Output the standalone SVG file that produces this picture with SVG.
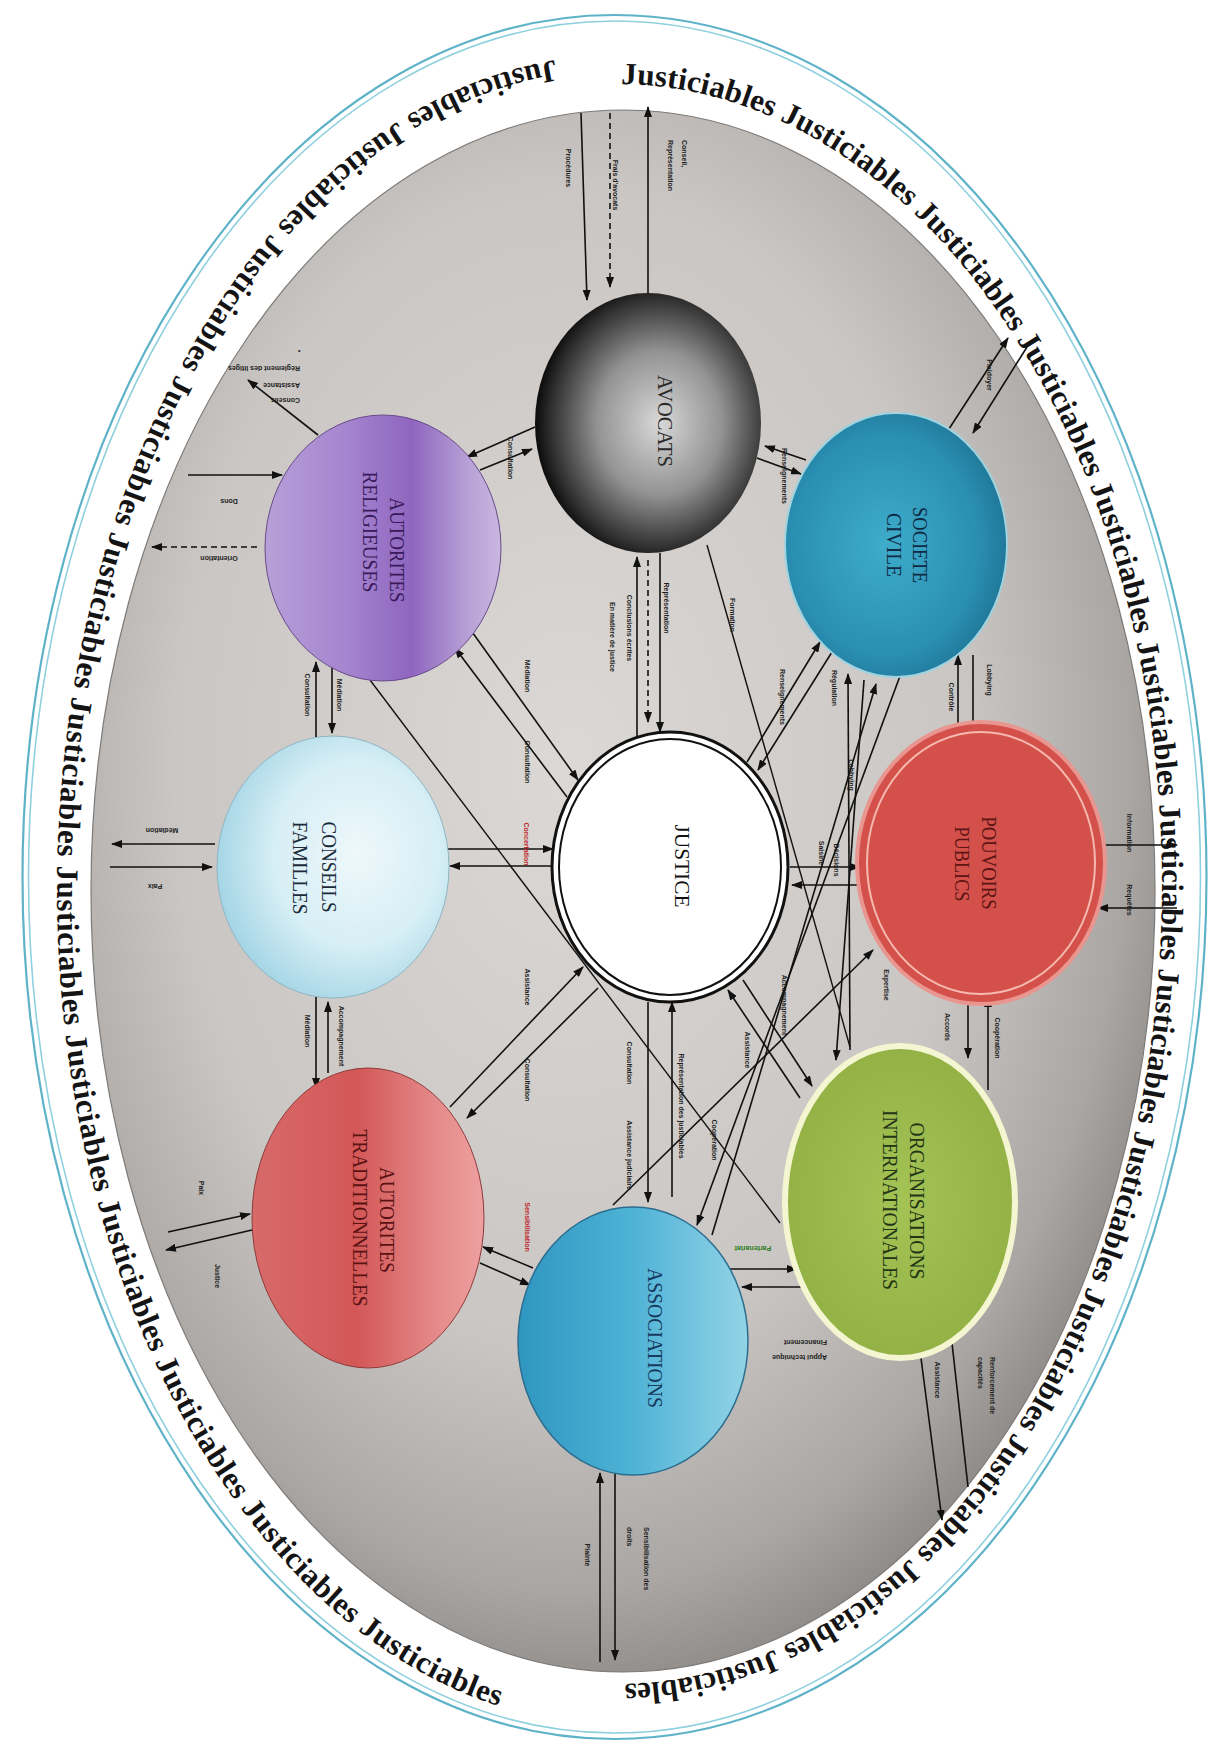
<svg xmlns="http://www.w3.org/2000/svg" xmlns:xlink="http://www.w3.org/1999/xlink" width="1224" height="1748" viewBox="0 0 1224 1748">
<style>
.ln{stroke:#111;stroke-width:1.6;fill:none;marker-end:url(#ah)}
.ln0{stroke:#111;stroke-width:1.4;fill:none}
.dash{stroke-dasharray:6 4}
.lb{font-family:"Liberation Sans",Arial,sans-serif;font-size:7px;font-weight:bold;fill:#1e1e1e}
.red{fill:#c0282d}
.grn{fill:#2e7d1e}
.nl{font-family:"Liberation Serif","Times New Roman",serif;font-size:20px}
.jt{font-family:"Liberation Serif","Times New Roman",serif;font-size:31px;font-weight:bold;fill:#141414}
</style>
<defs>
<marker id="ah" markerUnits="userSpaceOnUse" markerWidth="11" markerHeight="8" refX="10" refY="4" orient="auto"><path d="M0,0 L11,4 L0,8 z" fill="#111"/></marker>
<radialGradient id="gGray" cx="0.45" cy="0.42" r="0.62"><stop offset="0" stop-color="#dbd8d5"/><stop offset="0.6" stop-color="#c9c6c3"/><stop offset="0.85" stop-color="#a9a6a3"/><stop offset="1" stop-color="#85827f"/></radialGradient>
<radialGradient id="gAvo" cx="0.55" cy="0.5" r="0.55"><stop offset="0" stop-color="#d8d8d8"/><stop offset="0.5" stop-color="#939393"/><stop offset="0.88" stop-color="#2e2e2e"/><stop offset="1" stop-color="#0a0a0a"/></radialGradient>
<linearGradient id="gRel" x1="0" y1="0" x2="1" y2="0"><stop offset="0" stop-color="#b7a0d8"/><stop offset="0.35" stop-color="#a584cf"/><stop offset="0.62" stop-color="#8f66bf"/><stop offset="0.85" stop-color="#b59ed5"/><stop offset="1" stop-color="#c9b8e0"/></linearGradient>
<radialGradient id="gCon" cx="0.6" cy="0.45" r="0.6"><stop offset="0" stop-color="#eef8fb"/><stop offset="0.6" stop-color="#d6eef5"/><stop offset="1" stop-color="#a6d6e6"/></radialGradient>
<radialGradient id="gSoc" cx="0.45" cy="0.5" r="0.6"><stop offset="0" stop-color="#3eacca"/><stop offset="0.7" stop-color="#2a8fb2"/><stop offset="1" stop-color="#1d6f90"/></radialGradient>
<radialGradient id="gOrg" cx="0.5" cy="0.5" r="0.6"><stop offset="0" stop-color="#a4c355"/><stop offset="1" stop-color="#90ae42"/></radialGradient>
<linearGradient id="gAss" x1="0" y1="0" x2="1" y2="0"><stop offset="0" stop-color="#2f96c0"/><stop offset="0.5" stop-color="#4fb3d6"/><stop offset="1" stop-color="#93d3e6"/></linearGradient>
<linearGradient id="gTra" x1="0" y1="0" x2="1" y2="0"><stop offset="0" stop-color="#d86a6a"/><stop offset="0.45" stop-color="#d35757"/><stop offset="0.8" stop-color="#e58b8b"/><stop offset="1" stop-color="#eea0a0"/></linearGradient>
<path id="arcR" d="M617,84 A545,800 0 0 1 617,1684"/>
<path id="arcL" d="M617,55 A560,835 0 0 0 617,1725"/>
</defs>
<rect width="1224" height="1748" fill="#ffffff"/>
<g id="frame">
<ellipse cx="614.5" cy="877" rx="592" ry="862" fill="#ffffff" stroke="#5fb3c9" stroke-width="2.2"/>
<ellipse cx="614.5" cy="877" rx="586" ry="856" fill="none" stroke="#8fd0de" stroke-width="1.6"/>
<ellipse cx="623" cy="891" rx="532" ry="781" fill="url(#gGray)" stroke="#7d7b79" stroke-width="1.2"/>
<text class="jt"><textPath xlink:href="#arcR" href="#arcR" startOffset="4" textLength="2120" lengthAdjust="spacing">Justiciables Justiciables Justiciables Justiciables Justiciables Justiciables Justiciables Justiciables Justiciables Justiciables Justiciables Justiciables Justiciables</textPath></text>
<text class="jt"><textPath xlink:href="#arcL" href="#arcL" startOffset="62" textLength="2030" lengthAdjust="spacing">Justiciables Justiciables Justiciables Justiciables Justiciables Justiciables Justiciables Justiciables Justiciables Justiciables Justiciables Justiciables</textPath></text>
</g>
<g id="connectors">
<path class="ln" d="M581,113 L587,300"/>
<path class="ln dash" d="M610,113 L610,287"/>
<path class="ln" d="M648,293 L648,107"/>
<path class="ln" d="M535,427 L467,457"/>
<path class="ln" d="M480,470 L532,449"/>
<path class="ln" d="M806,460 L765,446"/>
<path class="ln" d="M757,458 L801,474"/>
<path class="ln" d="M947,432 L1008,338"/>
<path class="ln" d="M1027,347 L973,433"/>
<path class="ln" d="M318,435 L248,380"/>
<path class="ln" d="M188,475 L282,475"/>
<path class="ln dash" d="M257,547 L152,547"/>
<path class="ln" d="M316,737 L316,662"/>
<path class="ln" d="M332,662 L332,733"/>
<path class="ln" d="M567,797 L455,648"/>
<path class="ln" d="M465,622 L578,780"/>
<path class="ln" d="M637,737 L637,557"/>
<path class="ln dash" d="M648,560 L648,722"/>
<path class="ln" d="M660,553 L660,732"/>
<path class="ln" d="M215,844 L112,844"/>
<path class="ln" d="M110,867 L212,867"/>
<path class="ln" d="M447,849 L553,849"/>
<path class="ln" d="M560,866 L450,866"/>
<path class="ln" d="M316,997 L316,1088"/>
<path class="ln" d="M328,1073 L328,1002"/>
<path class="ln" d="M598,988 L467,1118"/>
<path class="ln" d="M450,1107 L583,967"/>
<path class="ln" d="M168,1232 L250,1214"/>
<path class="ln" d="M252,1230 L166,1250"/>
<path class="ln" d="M533,1268 L483,1247"/>
<path class="ln" d="M480,1263 L530,1285"/>
<path class="ln" d="M727,1269 L797,1269"/>
<path class="ln" d="M812,1287 L742,1287"/>
<path class="ln" d="M600,1662 L600,1473"/>
<path class="ln" d="M615,1472 L615,1660"/>
<path class="ln" d="M918,1335 L942,1520"/>
<path class="ln" d="M968,1487 L950,1325"/>
<path class="ln" d="M1093,845 L1177,845"/>
<path class="ln" d="M1177,908 L1098,908"/>
<path class="ln" d="M958,730 L958,655"/>
<path class="ln" d="M973,655 L973,732"/>
<path class="ln" d="M968,1002 L968,1058"/>
<path class="ln" d="M988,1090 L988,997"/>
<path class="ln" d="M790,867 L860,867"/>
<path class="ln" d="M862,885 L792,885"/>
<path class="ln" d="M648,1002 L648,1202"/>
<path class="ln" d="M672,1197 L672,1002"/>
<path class="ln" d="M800,1098 L728,990"/>
<path class="ln" d="M743,980 L812,1086"/>
<path class="ln" d="M747,762 L820,642"/>
<path class="ln" d="M832,652 L758,770"/>
<path class="ln0" d="M707,545 L850,1047"/>
<path class="ln0" d="M370,680 L780,1223"/>
<path class="ln" d="M850,1050 L848,674"/>
<path class="ln" d="M864,680 L836,1060"/>
<path class="ln" d="M900,676 L697,1225"/>
<path class="ln" d="M712,1235 L876,684"/>
<path class="ln" d="M613,1205 L873,950"/>
</g>
<g id="labels">
<text class="lb" transform="translate(566,168) rotate(90)" text-anchor="middle">Procédures</text>
<text class="lb" transform="translate(613,185) rotate(90)" text-anchor="middle">Frais d'avocats</text>
<text class="lb" transform="translate(682,140) rotate(90)">Conseil,</text>
<text class="lb" transform="translate(668,140) rotate(90)">Représentation</text>
<text class="lb" transform="translate(508,458) rotate(90)" text-anchor="middle">Consultation</text>
<text class="lb" transform="translate(782,476) rotate(90)" text-anchor="middle">Renseignements</text>
<text class="lb" transform="translate(987,375) rotate(90)" text-anchor="middle">Plaidoyer</text>
<text class="lb" transform="translate(300,366) rotate(180)">Règlement des litiges</text>
<text class="lb" transform="translate(300,383) rotate(180)">Assistance</text>
<text class="lb" transform="translate(300,398) rotate(180)">Conseils</text>
<text class="lb" x="298" y="353">•</text>
<text class="lb" transform="translate(229,499) rotate(180)" text-anchor="middle">Dons</text>
<text class="lb" transform="translate(219,556) rotate(180)" text-anchor="middle">Orientation</text>
<text class="lb" transform="translate(305,695) rotate(90)" text-anchor="middle">Consultation</text>
<text class="lb" transform="translate(337,695) rotate(90)" text-anchor="middle">Médiation</text>
<text class="lb" transform="translate(525,676) rotate(90)" text-anchor="middle">Médiation</text>
<text class="lb" transform="translate(525,762) rotate(90)" text-anchor="middle">Consultation</text>
<text class="lb" transform="translate(610,637) rotate(90)" text-anchor="middle">En matière de justice</text>
<text class="lb" transform="translate(627,628) rotate(90)" text-anchor="middle">Conclusions écrites</text>
<text class="lb" transform="translate(664,608) rotate(90)" text-anchor="middle">Représentation</text>
<text class="lb" transform="translate(162,828) rotate(180)" text-anchor="middle">Médiation</text>
<text class="lb" transform="translate(155,884) rotate(180)" text-anchor="middle">Paix</text>
<text class="lb red" transform="translate(524,844) rotate(90)" text-anchor="middle">Concertation</text>
<text class="lb" transform="translate(305,1031) rotate(90)" text-anchor="middle">Médiation</text>
<text class="lb" transform="translate(339,1036) rotate(90)" text-anchor="middle">Accompagnement</text>
<text class="lb" transform="translate(525,987) rotate(90)" text-anchor="middle">Assistance</text>
<text class="lb" transform="translate(525,1080) rotate(90)" text-anchor="middle">Consultation</text>
<text class="lb" transform="translate(199,1188) rotate(90)" text-anchor="middle">Paix</text>
<text class="lb" transform="translate(215,1276) rotate(90)" text-anchor="middle">Justice</text>
<text class="lb red" transform="translate(525,1227) rotate(90)" text-anchor="middle">Sensibilisation</text>
<text class="lb" transform="translate(627,1063) rotate(90)" text-anchor="middle">Consultation</text>
<text class="lb" transform="translate(627,1155) rotate(90)" text-anchor="middle">Assistance judiciaire</text>
<text class="lb" transform="translate(679,1106) rotate(90)" text-anchor="middle">Représentation des justiciables</text>
<text class="lb grn" transform="translate(753,1246) rotate(180)" text-anchor="middle">Partenariat</text>
<text class="lb" transform="translate(827,1340) rotate(180)">Financement</text>
<text class="lb" transform="translate(827,1355) rotate(180)">Appui technique</text>
<text class="lb" transform="translate(585,1555) rotate(90)" text-anchor="middle">Plainte</text>
<text class="lb" transform="translate(644,1527) rotate(90)">Sensibilisation des</text>
<text class="lb" transform="translate(627,1527) rotate(90)">droits</text>
<text class="lb" transform="translate(935,1380) rotate(90)" text-anchor="middle">Assistance</text>
<text class="lb" transform="translate(990,1357) rotate(90)">Renforcement de</text>
<text class="lb" transform="translate(978,1357) rotate(90)">capacités</text>
<text class="lb" transform="translate(1127,833) rotate(90)" text-anchor="middle">Information</text>
<text class="lb" transform="translate(1127,900) rotate(90)" text-anchor="middle">Requêtes</text>
<text class="lb" transform="translate(949,697) rotate(90)" text-anchor="middle">Contrôle</text>
<text class="lb" transform="translate(987,680) rotate(90)" text-anchor="middle">Lobbying</text>
<text class="lb" transform="translate(945,1027) rotate(90)" text-anchor="middle">Accords</text>
<text class="lb" transform="translate(995,1038) rotate(90)" text-anchor="middle">Coopération</text>
<text class="lb" transform="translate(819,853) rotate(90)" text-anchor="middle">Saisine</text>
<text class="lb" transform="translate(834,860) rotate(90)" text-anchor="middle">Décisions</text>
<text class="lb" transform="translate(780,697) rotate(90)" text-anchor="middle">Renseignements</text>
<text class="lb" transform="translate(832,688) rotate(90)" text-anchor="middle">Régulation</text>
<text class="lb" transform="translate(849,775) rotate(90)" text-anchor="middle">Lobbying</text>
<text class="lb" transform="translate(884,985) rotate(90)" text-anchor="middle">Expertise</text>
<text class="lb" transform="translate(782,1005) rotate(90)" text-anchor="middle">Accompagnement</text>
<text class="lb" transform="translate(730,615) rotate(90)" text-anchor="middle">Formation</text>
<text class="lb" transform="translate(745,1050) rotate(90)" text-anchor="middle">Assistance</text>
<text class="lb" transform="translate(712,1140) rotate(90)" text-anchor="middle">Coopération</text>
</g>
<g id="node-avocats">
<ellipse cx="648" cy="423" rx="113" ry="130" fill="url(#gAvo)"/>
<text class="nl" fill="#2a2a2a" transform="translate(658,421) rotate(90)" text-anchor="middle" textLength="92" lengthAdjust="spacingAndGlyphs">AVOCATS</text>
</g>
<g id="node-religieuses">
<ellipse cx="383" cy="548" rx="118" ry="133" fill="url(#gRel)" stroke="#6a4a8a" stroke-width="1"/>
<text class="nl" fill="#3a1a5a" transform="translate(390,550) rotate(90)" text-anchor="middle" textLength="105" lengthAdjust="spacingAndGlyphs">AUTORITES</text>
<text class="nl" fill="#3a1a5a" transform="translate(363,532) rotate(90)" text-anchor="middle" textLength="121" lengthAdjust="spacingAndGlyphs">RELIGIEUSES</text>
</g>
<g id="node-societe">
<ellipse cx="896" cy="545" rx="111" ry="132" fill="url(#gSoc)" stroke="#9fd3e0" stroke-width="2"/>
<text class="nl" fill="#0f2a45" transform="translate(913,545) rotate(90)" text-anchor="middle" textLength="76" lengthAdjust="spacingAndGlyphs">SOCIETE</text>
<text class="nl" fill="#0f2a45" transform="translate(887,545) rotate(90)" text-anchor="middle" textLength="64" lengthAdjust="spacingAndGlyphs">CIVILE</text>
</g>
<g id="node-conseils">
<ellipse cx="333" cy="867" rx="116" ry="131" fill="url(#gCon)" stroke="#8fb5c4" stroke-width="1"/>
<text class="nl" fill="#1b2a3a" transform="translate(322,867) rotate(90)" text-anchor="middle" textLength="91" lengthAdjust="spacingAndGlyphs">CONSEILS</text>
<text class="nl" fill="#1b2a3a" transform="translate(293,868) rotate(90)" text-anchor="middle" textLength="93" lengthAdjust="spacingAndGlyphs">FAMILLES</text>
</g>
<g id="node-justice">
<ellipse cx="670" cy="867" rx="118" ry="135" fill="#ffffff" stroke="#111" stroke-width="3"/>
<ellipse cx="670" cy="867" rx="111" ry="128" fill="none" stroke="#111" stroke-width="2"/>
<text class="nl" fill="#111" font-size="19" transform="translate(675,866) rotate(90)" text-anchor="middle" textLength="83" lengthAdjust="spacingAndGlyphs">JUSTICE</text>
</g>
<g id="node-pouvoirs">
<ellipse cx="981" cy="863" rx="124" ry="141" fill="#d4504a" stroke="#e99690" stroke-width="4"/>
<ellipse cx="981" cy="863" rx="114" ry="131" fill="none" stroke="#f6b9b0" stroke-width="2"/>
<text class="nl" fill="#5c1414" transform="translate(982,863) rotate(90)" text-anchor="middle" textLength="93" lengthAdjust="spacingAndGlyphs">POUVOIRS</text>
<text class="nl" fill="#5c1414" transform="translate(955,864) rotate(90)" text-anchor="middle" textLength="75" lengthAdjust="spacingAndGlyphs">PUBLICS</text>
</g>
<g id="node-traditionnelles">
<ellipse cx="368" cy="1218" rx="116" ry="150" fill="url(#gTra)" stroke="#8f3a3a" stroke-width="1"/>
<text class="nl" fill="#5a1212" transform="translate(380,1220) rotate(90)" text-anchor="middle" textLength="106" lengthAdjust="spacingAndGlyphs">AUTORITES</text>
<text class="nl" fill="#5a1212" transform="translate(353,1218) rotate(90)" text-anchor="middle" textLength="177" lengthAdjust="spacingAndGlyphs">TRADITIONNELLES</text>
</g>
<g id="node-organisations">
<ellipse cx="900" cy="1202" rx="115" ry="156" fill="url(#gOrg)" stroke="#f4f6d2" stroke-width="6"/>
<text class="nl" fill="#223515" transform="translate(910,1201) rotate(90)" text-anchor="middle" textLength="157" lengthAdjust="spacingAndGlyphs">ORGANISATIONS</text>
<text class="nl" fill="#223515" transform="translate(883,1200) rotate(90)" text-anchor="middle" textLength="180" lengthAdjust="spacingAndGlyphs">INTERNATIONALES</text>
</g>
<g id="node-associations">
<ellipse cx="633" cy="1341" rx="115" ry="134" fill="url(#gAss)" stroke="#2b6e8f" stroke-width="1.5"/>
<text class="nl" fill="#173a5e" transform="translate(648,1338) rotate(90)" text-anchor="middle" textLength="140" lengthAdjust="spacingAndGlyphs">ASSOCIATIONS</text>
</g>
</svg>
